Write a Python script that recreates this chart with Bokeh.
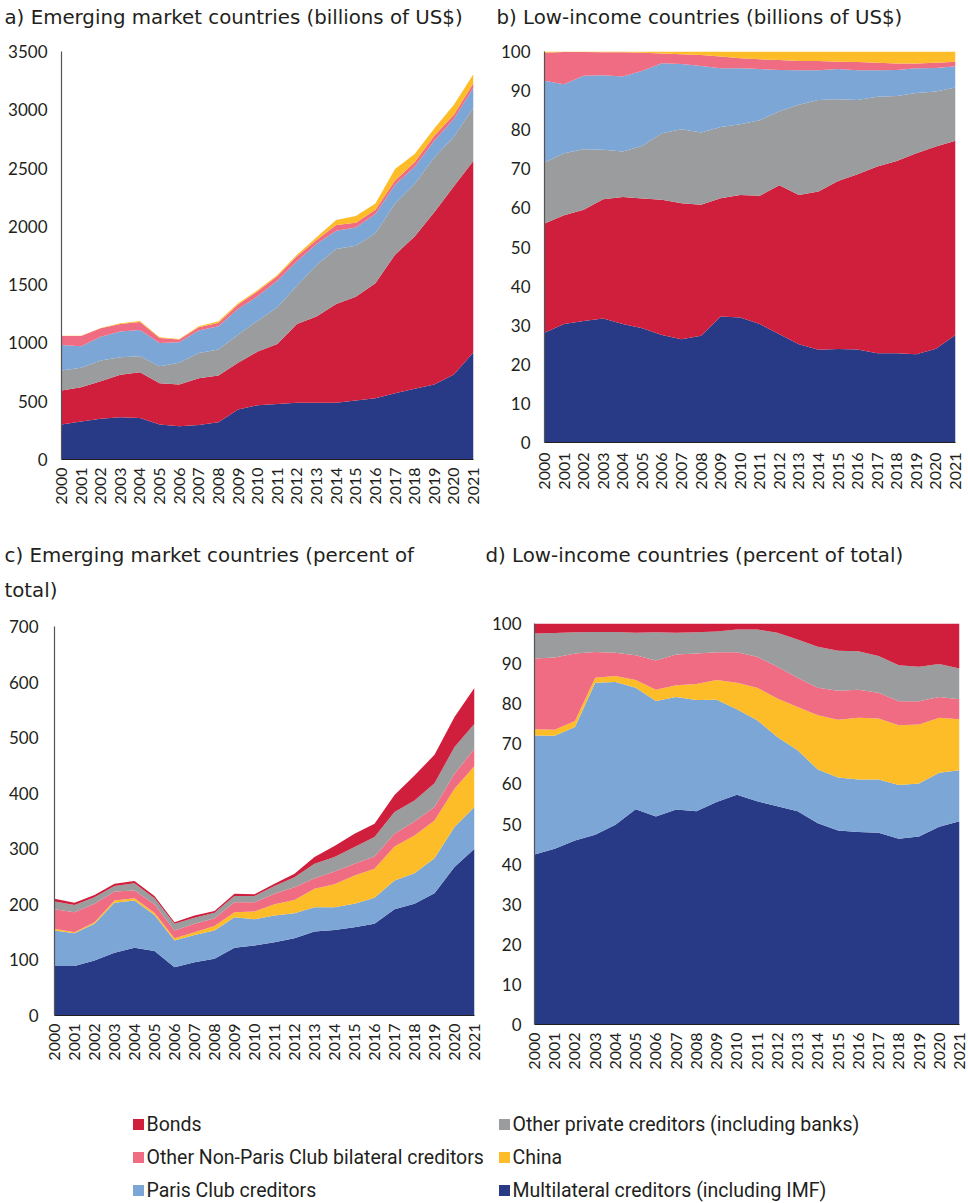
import math
from bokeh.plotting import figure
from bokeh.models import ColumnDataSource, Range1d, FixedTicker
from bokeh.layouts import column, row
from bokeh.embed import file_html
from bokeh.resources import INLINE
from bokeh.core.properties import value

years = list(range(2000, 2022))

# a) Emerging market countries (billions of US$)
a_multilateral = [300, 326, 349, 363, 357, 300, 286, 297, 320, 429, 466, 477, 486, 486, 486, 506, 526, 569, 606, 643, 729, 920]
a_bonds = [291, 294, 322, 363, 392, 354, 357, 400, 400, 400, 460, 514, 677, 740, 848, 891, 985, 1188, 1308, 1477, 1614, 1643]
a_private = [172, 166, 178, 151, 137, 146, 186, 217, 223, 242, 265, 315, 328, 443, 472, 437, 429, 440, 449, 471, 425, 457]
a_paris = [220, 185, 205, 220, 225, 200, 177, 192, 200, 220, 209, 228, 209, 180, 157, 157, 166, 160, 148, 143, 152, 171]
a_nonpc = [77, 89, 72, 66, 69, 43, 23, 28, 31, 38, 43, 37, 43, 34, 48, 40, 37, 37, 38, 43, 37, 38]
a_china = [2, 2, 2, 5, 9, 6, 5, 9, 12, 11, 11, 12, 14, 23, 43, 57, 54, 97, 71, 63, 86, 77]

# b) Low-income countries (billions of US$)
b_multilateral = [28.1, 30.3, 31.1, 31.7, 30.3, 29.2, 27.5, 26.4, 27.3, 32.2, 32.0, 30.3, 27.7, 25.1, 23.7, 23.9, 23.8, 22.8, 22.8, 22.6, 24.0, 27.5]
b_bonds = [27.9, 27.8, 28.4, 30.5, 32.5, 33.2, 34.6, 34.8, 33.5, 30.3, 31.3, 32.8, 38.1, 38.2, 40.5, 43.0, 44.8, 47.8, 49.2, 51.4, 51.7, 49.7]
b_private = [15.6, 15.9, 15.5, 12.7, 11.6, 13.5, 17.0, 18.9, 18.5, 18.2, 18.1, 19.3, 18.9, 23.1, 23.4, 20.9, 19.0, 17.8, 16.6, 15.4, 14.1, 13.6]
b_paris = [20.9, 17.6, 18.8, 19.0, 19.2, 19.2, 17.9, 16.7, 17.0, 15.0, 14.3, 13.1, 10.6, 8.8, 7.6, 7.7, 7.6, 6.8, 6.7, 6.3, 6.0, 5.4]
b_nonpc = [7.2, 8.3, 6.1, 5.9, 6.2, 4.6, 2.5, 2.5, 2.8, 3.0, 2.6, 2.5, 2.5, 2.4, 2.4, 1.9, 2.1, 1.9, 1.6, 1.2, 1.3, 1.2]
b_china = [0.3, 0.1, 0.1, 0.2, 0.2, 0.3, 0.5, 0.7, 0.9, 1.3, 1.7, 2.0, 2.2, 2.4, 2.4, 2.6, 2.7, 2.9, 3.1, 3.1, 2.9, 2.6]

# c) Emerging market countries (percent of total)
c_multilateral = [89, 89, 99, 113, 122, 116, 87, 96, 102, 122, 126, 132, 139, 151, 154, 159, 165, 191, 201, 220, 267, 300]
c_paris = [64, 59, 66, 90, 85, 65, 48, 49, 51, 55, 47, 48, 45, 44, 41, 42, 47, 52, 55, 63, 72, 75]
c_china = [3, 2, 3, 4, 4, 4, 4, 5, 8, 9, 14, 20, 24, 33, 41, 51, 52, 61, 68, 68, 69, 74]
c_nonpc = [35, 36, 33, 16, 14, 15, 14, 15, 14, 18, 17, 19, 23, 19, 23, 21, 22, 23, 25, 24, 27, 31]
c_private = [14, 13, 12, 10, 13, 11, 12, 11, 10, 11, 11, 14, 18, 26, 26, 30, 35, 39, 38, 43, 48, 45]
c_bonds = [5, 4, 4, 4, 4, 4, 3, 4, 3, 4, 3, 4, 6, 12, 20, 24, 24, 31, 45, 51, 54, 65]

# d) Low-income countries (percent of total)
d_multilateral = [42.4, 43.8, 45.9, 47.3, 49.8, 53.7, 51.9, 53.6, 53.2, 55.5, 57.3, 55.7, 54.4, 53.2, 50.2, 48.4, 48.0, 47.8, 46.3, 46.9, 49.3, 50.7]
d_paris = [29.7, 28.2, 28.3, 37.9, 35.6, 30.3, 28.8, 28.1, 27.7, 25.5, 21.3, 20.2, 17.3, 15.2, 13.4, 13.2, 13.1, 13.3, 13.4, 13.2, 13.5, 12.7]
d_china = [1.5, 1.5, 1.5, 1.3, 1.5, 1.9, 2.8, 2.9, 4.0, 4.9, 6.6, 8.1, 9.6, 10.8, 13.5, 14.4, 15.4, 15.2, 14.9, 14.7, 13.7, 12.7]
d_nonpc = [17.7, 18.0, 16.8, 6.4, 5.8, 6.2, 7.3, 7.7, 7.6, 6.9, 7.6, 7.7, 7.9, 7.3, 6.9, 7.2, 7.0, 6.4, 6.0, 5.8, 5.2, 5.0]
d_private = [6.2, 6.1, 5.3, 5.0, 5.2, 5.6, 7.0, 5.4, 5.3, 5.2, 5.7, 6.8, 8.5, 9.5, 10.2, 10.0, 9.6, 9.2, 9.0, 8.6, 8.2, 7.7]
d_bonds = [2.5, 2.4, 2.2, 2.1, 2.1, 2.3, 2.2, 2.3, 2.2, 2.0, 1.5, 1.5, 2.3, 4.0, 5.8, 6.8, 6.9, 8.1, 10.4, 10.8, 10.1, 11.2]

titles_row1 = ["a) Emerging market countries (billions of US$)",
               "b) Low-income countries (billions of US$)"]
titles_row2 = ["c) Emerging market countries (percent of", "total)",
               "d) Low-income countries (percent of total)"]

legend_labels = {
    "bonds": "Bonds",
    "private": "Other private creditors (including banks)",
    "nonpc": "Other Non-Paris Club bilateral creditors",
    "china": "China",
    "paris": "Paris Club creditors",
    "multilateral": "Multilateral creditors (including IMF)",
}
legend_order = ["bonds", "private", "nonpc", "china", "paris", "multilateral"]

COLORS = {
    "multilateral": "#283a86",
    "bonds": "#d01f3c",
    "private": "#9a9c9d",
    "paris": "#7ba6d6",
    "nonpc": "#f06c82",
    "china": "#fdbd28",
}
TEXT = "#231f20"
TICK_FONT = "Lato"
TITLE_FONT = "DejaVu Sans"
LEGEND_FONT = "Roboto"
PAGE_W = 968


def blank(W, H):
    p = figure(width=W, height=H, output_backend="svg", toolbar_location=None,
               x_range=Range1d(0, W), y_range=Range1d(H, 0), min_border=0,
               frame_align=False)
    p.axis.visible = False
    p.grid.visible = False
    p.outline_line_color = None
    return p


def text_strip(H, texts, xs, ys):
    p = blank(PAGE_W, H)
    src = ColumnDataSource(dict(x=xs, y=ys, t=texts))
    p.text(x="x", y="y", text="t", source=src, text_font=value(TITLE_FONT),
           text_font_size="19.8px", text_color=TEXT, text_baseline="middle",
           text_align="left")
    return p


def panel(series, order, ymax, ystep, W, H, left, right, top, bottom, ystand, xstand):
    src = ColumnDataSource(dict(year=years, **series))
    p = figure(width=W, height=H, output_backend="svg", toolbar_location=None,
               x_range=Range1d(years[0], years[-1]), y_range=Range1d(0, ymax),
               min_border_left=left, min_border_right=right,
               min_border_top=top, min_border_bottom=bottom, frame_align=False)
    p.varea_stack(stackers=order, x="year", color=[COLORS[k] for k in order], source=src)
    p.grid.visible = False
    p.outline_line_color = None
    p.yaxis.ticker = FixedTicker(ticks=list(range(0, ymax + 1, ystep)))
    p.xaxis.ticker = FixedTicker(ticks=years)
    p.xaxis.major_label_orientation = math.pi / 2
    for ax in (p.xaxis, p.yaxis):
        ax.major_tick_line_color = None
        ax.minor_tick_line_color = None
        ax.major_tick_out = 0
        ax.major_tick_in = 0
        ax.major_label_text_font = TICK_FONT
        ax.major_label_text_color = TEXT
    p.yaxis.major_label_text_font_size = "17px"
    p.xaxis.major_label_text_font_size = "16px"
    p.yaxis.axis_line_color = "#555555"
    p.xaxis.axis_line_color = "#231f20"
    p.yaxis.axis_line_width = 1.2
    p.xaxis.axis_line_width = 1.2
    p.yaxis.major_label_standoff = ystand
    p.xaxis.major_label_standoff = xstand
    return p


order_ab = ["multilateral", "bonds", "private", "paris", "nonpc", "china"]
order_cd = ["multilateral", "paris", "china", "nonpc", "private", "bonds"]

t1 = text_strip(36, titles_row1, [4, 496], [17, 17])
pa = panel(dict(multilateral=a_multilateral, bonds=a_bonds, private=a_private,
                paris=a_paris, nonpc=a_nonpc, china=a_china),
           order_ab, 3500, 500, 484, 484, 61, 11, 15, 61, 14, 8)
pb = panel(dict(multilateral=b_multilateral, bonds=b_bonds, private=b_private,
                paris=b_paris, nonpc=b_nonpc, china=b_china),
           order_ab, 100, 10, 484, 484, 60, 13, 15, 78, 14, 10)

t2 = text_strip(84, titles_row2, [4, 4, 485], [35, 70, 35])
pc = panel(dict(multilateral=c_multilateral, bonds=c_bonds, private=c_private,
                paris=c_paris, nonpc=c_nonpc, china=c_china),
           order_cd, 700, 100, 484, 486, 54, 10, 22, 75, 16, 8)
pd_ = panel(dict(multilateral=d_multilateral, bonds=d_bonds, private=d_private,
                 paris=d_paris, nonpc=d_nonpc, china=d_china),
            order_cd, 100, 10, 484, 486, 50, 9, 19, 66, 13, 8)

# legend
pl = blank(PAGE_W, 113)
col_x = [138, 504]
row_y = [34, 67, 100]
lx, ly, lc, lt = [], [], [], []
for i, key in enumerate(legend_order):
    lx.append(col_x[i % 2])
    ly.append(row_y[i // 2])
    lc.append(COLORS[key])
    lt.append(legend_labels[key])
lsrc = ColumnDataSource(dict(x=lx, y=ly, c=lc, t=lt, tx=[v + 8 for v in lx]))
pl.scatter(x="x", y="y", marker="square", size=11, color="c", line_color=None, source=lsrc)
pl.text(x="tx", y="y", text="t", source=lsrc, text_font=value(LEGEND_FONT),
        text_font_size="19.5px", text_color=TEXT, text_baseline="middle", text_align="left")

layout = column(t1, row(pa, pb), t2, row(pc, pd_), pl)
open("out.html", "w").write(file_html(layout, INLINE))
